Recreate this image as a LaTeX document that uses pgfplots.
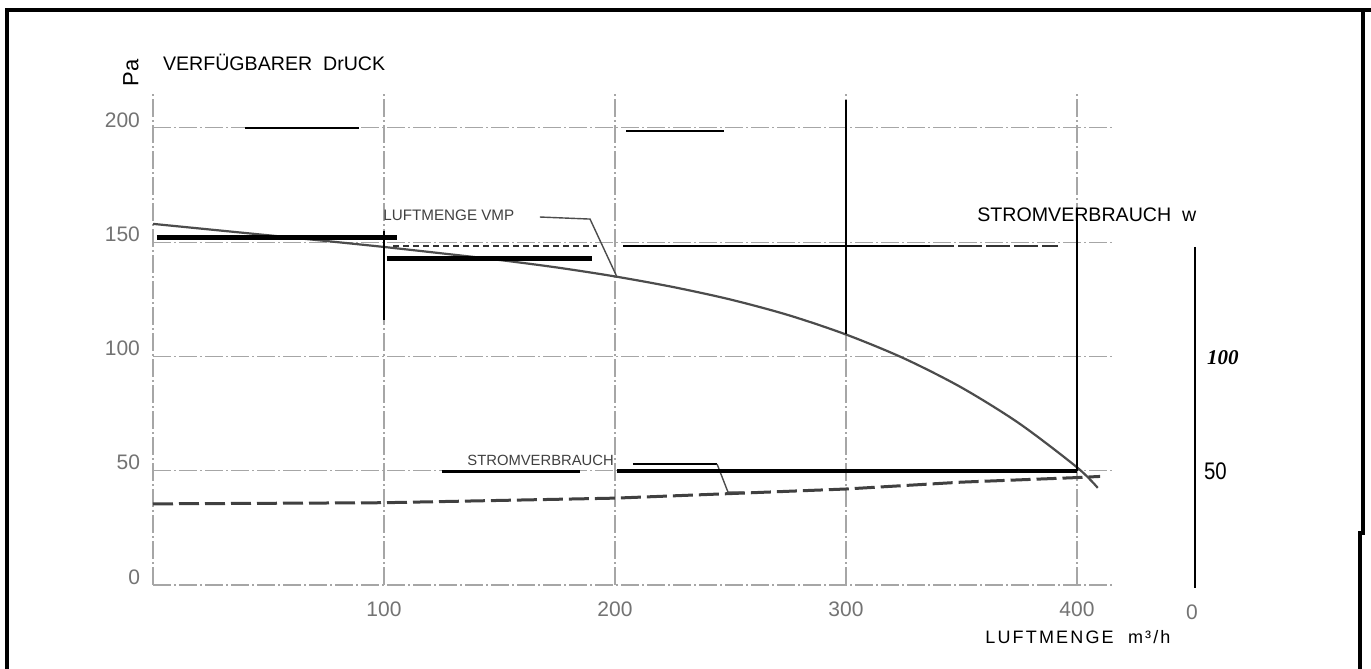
\documentclass[border=0pt]{standalone}
\usepackage{pgfplots}
\pgfplotsset{compat=1.18}
\usepackage{fontspec}
\setmainfont{Liberation Sans}
\newfontfamily\serifface{Liberation Serif}
\begin{document}
\begin{tikzpicture}[x=1pt,y=1pt]
\useasboundingbox (0,0) rectangle (685.5,334.5);
\fill[white] (0,0) rectangle (685.5,334.5);
\begin{axis}[
  at={(76.5pt,42pt)}, anchor=south west, scale only axis,
  width=479.3pt, height=245.7pt,
  xmin=0, xmax=415, ymin=0, ymax=215,
  clip=false,
  axis line style={draw=none},
  xtick={0,100,200,300,400}, xticklabels={,100,200,300,400},
  ytick={0,50,100,150,200},
  tick style={draw=none},
  grid=major,
  major grid style={black!35, line width=0.6pt, dash pattern=on 9pt off 1.5pt on 1pt off 1.5pt},
  ticklabel style={font=\fontsize{10.5}{10.5}\selectfont, text=black!55},
  /pgf/number format/assume math mode=true,
  xticklabel style={yshift=-5pt},
  yticklabel style={yshift=4pt, xshift=-3pt},
]
% pressure curve (Pa)
\addplot[smooth, line width=1.1pt, color=black!70] coordinates {
 (0,158) (25,155.5) (50,153) (75,150.5) (100,147.9) (125,145.1) (150,142.2)
 (175,138.9) (200,135) (225,130.4) (250,124.9) (275,118.1) (300,109.6)
 (325,99.2) (350,86.4) (375,70.7) (400,51.5) (409,42.5)};
% power consumption (W), dashed
\addplot[line width=1.5pt, color=black!75, dash pattern=on 10pt off 3pt] coordinates {
 (0,35.5) (100,36) (200,38) (250,40) (300,42) (350,45) (400,47) (410,47.5)};
% leader lines
\draw[black!70, line width=0.7pt] (axis cs:167.5,161) -- (axis cs:189.2,160.1) -- (axis cs:200.9,134.7);
\draw[black, line width=1.2pt] (axis cs:207.8,52.9) -- (axis cs:244.2,52.9);
\draw[black!70, line width=0.7pt] (axis cs:244.2,52.9) -- (axis cs:248.9,40.7) -- (axis cs:256,40.7);
% heavy black strokes of the scan
\draw[black, line width=1pt] (axis cs:40,200) -- (axis cs:89,200);
\draw[black, line width=1pt] (axis cs:204.8,198.6) -- (axis cs:247.2,198.6);
\draw[black, line width=2.6pt] (axis cs:1.7,152.2) -- (axis cs:105.6,152.2);
\draw[black, line width=2.6pt] (axis cs:101.3,143) -- (axis cs:190,143);
\draw[black, line width=0.8pt] (axis cs:203.5,148.3) -- (axis cs:336.4,148.3);
\draw[black!80, line width=0.8pt, dash pattern=on 12pt off 2pt] (axis cs:336.4,148.3) -- (axis cs:392,148.3);
\draw[black!80, line width=0.8pt, dash pattern=on 3pt off 2pt] (axis cs:104,148.3) -- (axis cs:192,148.3);
\draw[black, line width=1.3pt] (axis cs:300,212) -- (axis cs:300,109.6);
\draw[black, line width=1pt] (axis cs:400,165) -- (axis cs:400,50);
\draw[black, line width=0.7pt] (axis cs:100,155) -- (axis cs:100,116);
\draw[black, line width=2pt] (axis cs:201,49.9) -- (axis cs:400,49.9);
\draw[black, line width=1.5pt] (axis cs:125,49.6) -- (axis cs:185,49.6);
\end{axis}
% frame
\draw[black, line width=2pt] (3.5,0) -- (3.5,329.5) -- (685.5,329.5);
\draw[black, line width=2pt] (681.5,329.5) -- (681.5,67);
\draw[black, line width=2pt] (680,69) -- (680,0);
% right axis (power, W)
\draw[black, line width=1pt] (597.5,211) -- (597.5,40.5);
\node[anchor=west, font=\serifface\bfseries\itshape\fontsize{10.5}{10.5}\selectfont] at (600,155.5) {100};
\node[anchor=west, font=\fontsize{12}{12}\selectfont, xscale=0.85] at (599,99) {50};
\node[font=\fontsize{10.5}{10.5}\selectfont, text=black!55] at (596,28.5) {0};
% titles and labels
\node[rotate=90, font=\fontsize{11}{11}\selectfont] at (65.5,298) {Pa};
\node[anchor=west, font=\fontsize{9.8}{9.8}\selectfont] at (78,303.5) {VERFÜGBARER\ \ DrUCK};
\node[anchor=west, font=\fontsize{7.6}{7.6}\selectfont, text=black!75, inner sep=0pt] at (191.5,227) {LUFTMENGE VMP};
\node[anchor=west, font=\fontsize{7.4}{7.4}\selectfont, text=black!75, inner sep=0pt] at (233.5,104.5) {STROMVERBRAUCH};
\node[anchor=west, font=\fontsize{9.8}{9.8}\selectfont, inner sep=0pt] at (488.5,227) {STROMVERBRAUCH\ \ w};
\node[anchor=west, font=\addfontfeature{LetterSpace=12}\fontsize{9}{9}\selectfont, inner sep=0pt] at (492.5,16) {LUFTMENGE\ \ m³/h};
\end{tikzpicture}
\end{document}
